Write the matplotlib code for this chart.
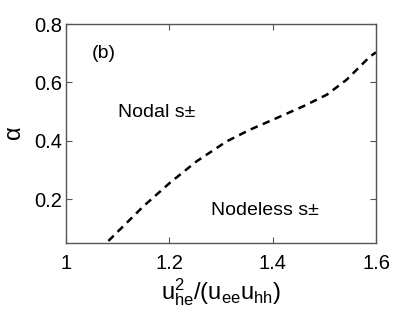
import numpy as np
import matplotlib
matplotlib.use('Agg')
import matplotlib.pyplot as plt

plt.rcParams['font.family'] = ['Liberation Sans', 'DejaVu Sans']
plt.rcParams['mathtext.fontset'] = 'custom'
plt.rcParams['mathtext.rm'] = 'Liberation Sans'
plt.rcParams['mathtext.it'] = 'Liberation Sans'

# phase boundary
ratio = [1.082, 1.150, 1.201, 1.253, 1.311, 1.356, 1.408, 1.459, 1.505, 1.543, 1.588, 1.600]
alpha = [0.057, 0.176, 0.256, 0.330, 0.398, 0.438, 0.478, 0.518, 0.558, 0.609, 0.688, 0.703]

xticks = [1, 1.2, 1.4, 1.6]
yticks = [0.2, 0.4, 0.6, 0.8]

fig = plt.figure(figsize=(4.15, 3.12), dpi=100)
ax = fig.add_axes([66/415, 1-243/312, 310/415, 219/312])

ax.plot(ratio, alpha, 'k--', lw=1.8, dashes=(3, 2.2))

ax.set_xlim(1, 1.6)
ax.set_ylim(0.05, 0.8)
ax.set_xticks(xticks)
ax.set_xticklabels(['1', '1.2', '1.4', '1.6'])
ax.set_yticks(yticks)
ax.set_yticklabels(['0.2', '0.4', '0.6', '0.8'])
ax.tick_params(direction='in', top=True, right=True, labelsize=14.5, length=4,
               color='#555555')
ax.tick_params(axis='x', pad=8)
ax.tick_params(axis='y', pad=3)
for s in ax.spines.values():
    s.set_color('#555555')
    s.set_linewidth(1.0)

ax.text(1.05, 0.70, '(b)', fontsize=14, va='center')
ax.text(1.1, 0.496, 'Nodal s\u00b1', fontsize=14, va='center')
ax.text(1.28, 0.16, 'Nodeless s\u00b1', fontsize=14, va='center')

ax.set_xlabel(r'$\mathrm{u_{he}^2/(u_{ee}u_{hh})}$', fontsize=17, labelpad=2)
ax.set_ylabel(r'$\alpha$', fontsize=17, labelpad=6)

fig.savefig('out.png', dpi=100)
